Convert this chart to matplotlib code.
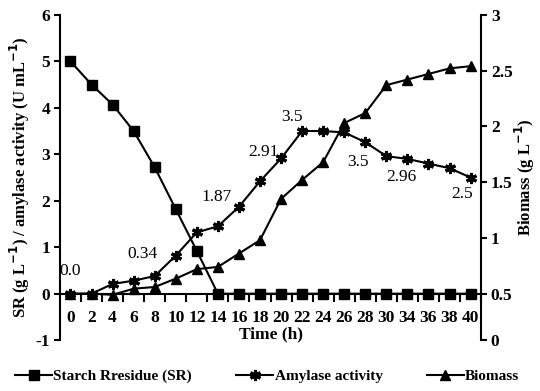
import matplotlib
matplotlib.use('Agg')
import matplotlib.pyplot as plt
import numpy as np

plt.rcParams['font.family'] = ['Liberation Serif', 'DejaVu Serif']
plt.rcParams['axes.unicode_minus'] = False

# time points (h) -- 32 h is not sampled, axis is categorical
time_labels = ['0', '2', '4', '6', '8', '10', '12', '14', '16', '18', '20',
               '22', '24', '26', '28', '30', '34', '36', '38', '40']
starch = [5.0, 4.5, 4.07, 3.5, 2.72, 1.82, 0.92, 0, 0, 0, 0, 0, 0, 0, 0, 0,
          0, 0, 0, 0]
amylase = [0.0, 0.0, 0.21, 0.28, 0.38, 0.82, 1.32, 1.45, 1.87, 2.42, 2.91,
           3.5, 3.5, 3.47, 3.26, 2.96, 2.9, 2.8, 2.7, 2.5]
biomass = [0.5, 0.5, 0.49, 0.545, 0.56, 0.635, 0.72, 0.74, 0.86, 0.98, 1.35,
           1.52, 1.68, 2.03, 2.12, 2.37, 2.42, 2.47, 2.52, 2.54]

# value labels on the amylase curve: (index, text, offset in points)
notes = [(0, '0.0', (0, 16)), (4, '0.34', (-9, 16)), (8, '1.87', (-16, 7)),
         (10, '2.91', (-13, 5)), (11, '3.5', (-7, 10)), (14, '3.5', (-5, -14)),
         (15, '2.96', (11, -15)), (19, '2.5', (-6, -12))]

x = np.arange(len(time_labels))
fs = 12.5

fig = plt.figure(figsize=(5.4, 3.91), dpi=100)
ax = fig.add_axes([0.111, 0.13, 0.78, 0.832])
ax2 = ax.twinx()

lw = 1.5
l1, = ax.plot(x, starch, color='black', lw=lw, marker='s', ms=6.5,
              label='Starch Rresidue (SR)')
l2, = ax.plot(x, amylase, color='black', lw=lw, marker=(6, 2, 0), ms=8,
              mew=2.2, label='Amylase activity')
l3, = ax2.plot(x, biomass, color='black', lw=lw, marker='^', ms=7.5,
               label='Biomass')

for i, txt, off in notes:
    ax.annotate(txt, (x[i], amylase[i]), xytext=off, textcoords='offset points',
                ha='center', va='center', fontsize=fs)

# left axis
ax.set_xlim(-0.5, len(x) - 0.5)
ax.set_ylim(-1, 6)
ax.set_yticks(range(-1, 7))
ax.set_yticklabels([str(v) for v in range(-1, 7)])
ax.spines['top'].set_visible(False)
ax.spines['right'].set_visible(False)
ax.spines['bottom'].set_position(('data', 0))
for s in ['left', 'bottom']:
    ax.spines[s].set_linewidth(1.5)
ax.set_xticks(x)
ax.set_xticklabels(time_labels)
ax.set_xticks(np.arange(0.5, len(x), 1), minor=True)
ax.tick_params(axis='x', which='major', length=0, pad=12, labelsize=fs)
ax.tick_params(axis='x', which='minor', length=6, width=1.5, direction='out')
ax.tick_params(axis='y', length=4, width=1.5, pad=3, labelsize=fs)
for t in ax.get_xticklabels() + ax.get_yticklabels():
    t.set_fontweight('bold')
ax.set_xlabel('Time (h)', fontsize=fs, fontweight='bold', labelpad=0)
ax.set_ylabel(r'SR (g L$^{\mathbf{-1}}$) / amylase activity (U mL$^{\mathbf{-1}}$)',
              fontsize=12, fontweight='bold', labelpad=3)

# right axis (0.5 aligned with SR zero, as in the original)
low = 0.5 - 1 / 2.4
ax2.set_ylim(low, 3)
ax2.set_yticks([low, 0.5, 1, 1.5, 2, 2.5, 3])
ax2.set_yticklabels(['0', '0.5', '1', '1.5', '2', '2.5', '3'])
for s in ['top', 'left', 'bottom']:
    ax2.spines[s].set_visible(False)
ax2.spines['right'].set_linewidth(1.5)
ax2.tick_params(axis='y', length=4, width=1.5, pad=3, labelsize=fs)
for t in ax2.get_yticklabels():
    t.set_fontweight('bold')
ax2.set_ylabel(r'Biomass (g L$^{\mathbf{-1}}$)', fontsize=12, fontweight='bold',
               labelpad=0)

fig.legend(handles=[l1, l2, l3], loc='lower center', bbox_to_anchor=(0.495, -0.015),
           ncol=3, frameon=False, handlelength=2.4, handletextpad=0.1,
           columnspacing=2.9, prop={'size': 11, 'weight': 'bold'})

fig.savefig('out.png', dpi=100)
